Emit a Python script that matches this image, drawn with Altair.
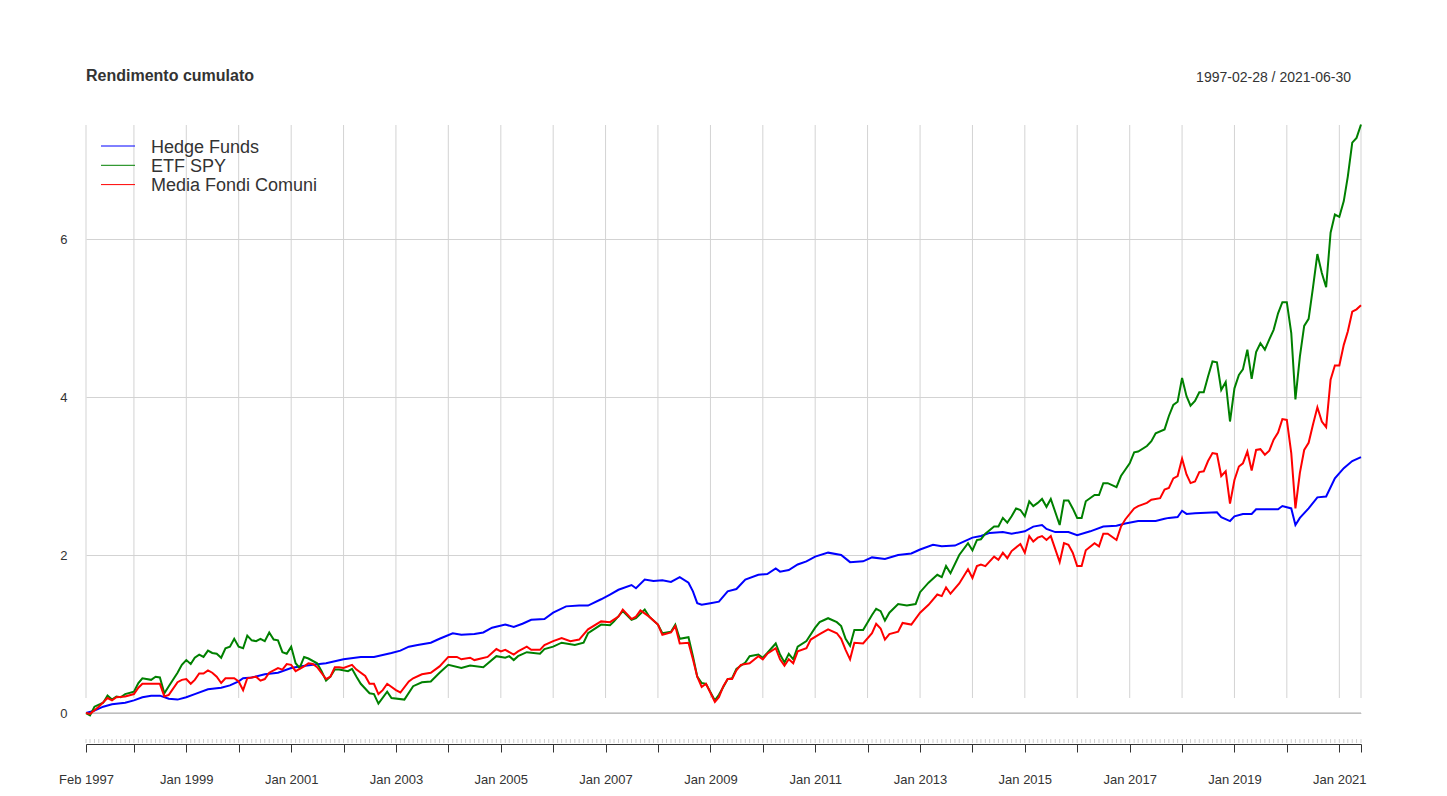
import altair as alt
import pandas as pd

# ---- data (monthly cumulative returns) ----
hedge_funds = [
    ("1997-02", 0.00), ("1997-04", 0.03), ("1997-06", 0.08), ("1997-08", 0.11), ("1997-11", 0.13),
    ("1998-01", 0.16), ("1998-03", 0.20), ("1998-05", 0.22), ("1998-07", 0.22), ("1998-09", 0.18),
    ("1998-11", 0.17), ("1999-01", 0.20), ("1999-03", 0.24), ("1999-06", 0.30), ("1999-09", 0.32),
    ("1999-11", 0.35), ("2000-01", 0.40), ("2000-02", 0.44), ("2000-04", 0.45), ("2000-07", 0.49),
    ("2000-10", 0.51), ("2001-01", 0.57), ("2001-03", 0.59), ("2001-06", 0.61), ("2001-09", 0.63),
    ("2002-01", 0.68), ("2002-05", 0.71), ("2002-08", 0.71), ("2002-12", 0.76), ("2003-02", 0.79),
    ("2003-04", 0.84), ("2003-06", 0.86), ("2003-09", 0.89), ("2003-11", 0.94), ("2004-02", 1.01),
    ("2004-04", 0.99), ("2004-07", 1.00), ("2004-09", 1.02), ("2004-11", 1.08), ("2005-02", 1.12),
    ("2005-04", 1.09), ("2005-06", 1.13), ("2005-08", 1.18), ("2005-11", 1.19), ("2006-01", 1.27),
    ("2006-04", 1.35), ("2006-07", 1.36), ("2006-09", 1.36), ("2006-12", 1.44), ("2007-02", 1.50),
    ("2007-04", 1.56), ("2007-07", 1.62), ("2007-08", 1.58), ("2007-10", 1.69), ("2007-12", 1.67),
    ("2008-02", 1.68), ("2008-04", 1.66), ("2008-06", 1.72), ("2008-08", 1.65), ("2008-09", 1.54),
    ("2008-10", 1.39), ("2008-11", 1.37), ("2009-01", 1.39), ("2009-03", 1.41), ("2009-05", 1.54),
    ("2009-07", 1.57), ("2009-09", 1.69), ("2009-12", 1.75), ("2010-02", 1.76), ("2010-04", 1.83),
    ("2010-05", 1.79), ("2010-07", 1.81), ("2010-09", 1.88), ("2010-11", 1.92), ("2011-01", 1.98),
    ("2011-04", 2.03), ("2011-07", 2.00), ("2011-09", 1.91), ("2011-12", 1.92), ("2012-02", 1.97),
    ("2012-05", 1.95), ("2012-08", 2.00), ("2012-11", 2.02), ("2013-01", 2.07), ("2013-04", 2.13),
    ("2013-06", 2.11), ("2013-09", 2.12), ("2013-11", 2.17), ("2014-01", 2.22), ("2014-03", 2.24),
    ("2014-05", 2.28), ("2014-08", 2.29), ("2014-10", 2.27), ("2015-01", 2.30), ("2015-03", 2.36),
    ("2015-05", 2.38), ("2015-06", 2.33), ("2015-08", 2.29), ("2015-11", 2.29), ("2016-01", 2.25),
    ("2016-04", 2.30), ("2016-07", 2.36), ("2016-10", 2.37), ("2016-12", 2.40), ("2017-03", 2.43),
    ("2017-07", 2.43), ("2017-09", 2.46), ("2017-10", 2.47), ("2017-12", 2.48), ("2018-01", 2.56),
    ("2018-02", 2.52), ("2018-04", 2.53), ("2018-09", 2.54), ("2018-10", 2.48), ("2018-12", 2.43),
    ("2019-01", 2.49), ("2019-03", 2.52), ("2019-05", 2.52), ("2019-06", 2.58), ("2019-11", 2.58),
    ("2019-12", 2.62), ("2020-02", 2.59), ("2020-03", 2.38), ("2020-04", 2.47), ("2020-06", 2.59),
    ("2020-08", 2.73), ("2020-10", 2.74), ("2020-12", 2.97), ("2021-02", 3.10), ("2021-04", 3.19),
    ("2021-06", 3.24),
]

etf_spy = [
    ("1997-02", 0.00), ("1997-03", -0.03), ("1997-04", 0.08), ("1997-06", 0.13), ("1997-07", 0.22),
    ("1997-08", 0.17), ("1997-09", 0.21), ("1997-10", 0.20), ("1997-11", 0.24), ("1998-01", 0.27),
    ("1998-02", 0.38), ("1998-03", 0.44), ("1998-05", 0.42), ("1998-06", 0.46), ("1998-07", 0.45),
    ("1998-08", 0.25), ("1998-09", 0.34), ("1998-11", 0.51), ("1998-12", 0.61), ("1999-01", 0.67),
    ("1999-02", 0.62), ("1999-03", 0.70), ("1999-04", 0.74), ("1999-05", 0.71), ("1999-06", 0.79),
    ("1999-07", 0.76), ("1999-08", 0.75), ("1999-09", 0.70), ("1999-10", 0.82), ("1999-11", 0.84),
    ("1999-12", 0.94), ("2000-01", 0.84), ("2000-02", 0.82), ("2000-03", 0.98), ("2000-04", 0.92),
    ("2000-05", 0.91), ("2000-06", 0.94), ("2000-07", 0.91), ("2000-08", 1.02), ("2000-09", 0.93),
    ("2000-10", 0.92), ("2000-11", 0.77), ("2000-12", 0.75), ("2001-01", 0.84), ("2001-02", 0.63),
    ("2001-03", 0.57), ("2001-04", 0.71), ("2001-05", 0.69), ("2001-07", 0.63), ("2001-08", 0.53),
    ("2001-09", 0.41), ("2001-10", 0.46), ("2001-11", 0.55), ("2001-12", 0.55), ("2002-02", 0.53),
    ("2002-03", 0.56), ("2002-04", 0.46), ("2002-05", 0.37), ("2002-07", 0.25), ("2002-08", 0.24),
    ("2002-09", 0.12), ("2002-11", 0.27), ("2002-12", 0.19), ("2003-03", 0.17), ("2003-05", 0.34),
    ("2003-07", 0.39), ("2003-09", 0.40), ("2003-11", 0.51), ("2004-01", 0.61), ("2004-04", 0.57),
    ("2004-06", 0.60), ("2004-09", 0.58), ("2004-12", 0.72), ("2005-02", 0.70), ("2005-03", 0.72),
    ("2005-04", 0.67), ("2005-05", 0.72), ("2005-07", 0.77), ("2005-10", 0.75), ("2005-11", 0.81),
    ("2006-01", 0.84), ("2006-03", 0.89), ("2006-06", 0.86), ("2006-08", 0.89), ("2006-09", 1.01),
    ("2006-12", 1.12), ("2007-02", 1.11), ("2007-03", 1.16), ("2007-05", 1.29), ("2007-07", 1.18),
    ("2007-08", 1.20), ("2007-10", 1.31), ("2007-11", 1.22), ("2008-01", 1.12), ("2008-02", 1.01),
    ("2008-04", 1.03), ("2008-05", 1.12), ("2008-06", 0.94), ("2008-08", 0.96), ("2008-09", 0.72),
    ("2008-10", 0.46), ("2008-11", 0.38), ("2008-12", 0.37), ("2009-02", 0.16), ("2009-03", 0.23),
    ("2009-05", 0.43), ("2009-06", 0.44), ("2009-07", 0.56), ("2009-09", 0.64), ("2009-10", 0.72),
    ("2009-12", 0.74), ("2010-01", 0.70), ("2010-02", 0.76), ("2010-04", 0.88), ("2010-05", 0.74),
    ("2010-06", 0.64), ("2010-07", 0.75), ("2010-08", 0.68), ("2010-09", 0.84), ("2010-11", 0.91),
    ("2011-01", 1.08), ("2011-02", 1.15), ("2011-04", 1.20), ("2011-06", 1.15), ("2011-07", 1.10),
    ("2011-08", 0.94), ("2011-09", 0.85), ("2011-10", 1.05), ("2011-12", 1.05), ("2012-02", 1.24),
    ("2012-03", 1.32), ("2012-04", 1.29), ("2012-05", 1.17), ("2012-06", 1.27), ("2012-08", 1.38),
    ("2012-10", 1.36), ("2012-12", 1.38), ("2013-01", 1.53), ("2013-03", 1.65), ("2013-05", 1.75),
    ("2013-06", 1.72), ("2013-07", 1.86), ("2013-08", 1.77), ("2013-10", 2.00), ("2013-12", 2.15),
    ("2014-01", 2.06), ("2014-02", 2.19), ("2014-03", 2.20), ("2014-04", 2.27), ("2014-06", 2.36),
    ("2014-07", 2.36), ("2014-08", 2.47), ("2014-09", 2.41), ("2014-10", 2.49), ("2014-11", 2.59),
    ("2014-12", 2.57), ("2015-01", 2.49), ("2015-02", 2.68), ("2015-03", 2.62), ("2015-04", 2.66),
    ("2015-05", 2.71), ("2015-06", 2.61), ("2015-07", 2.71), ("2015-09", 2.38), ("2015-10", 2.69),
    ("2015-11", 2.69), ("2015-12", 2.59), ("2016-01", 2.47), ("2016-02", 2.47), ("2016-03", 2.68),
    ("2016-05", 2.76), ("2016-06", 2.76), ("2016-07", 2.91), ("2016-08", 2.91), ("2016-10", 2.86),
    ("2016-11", 3.00), ("2016-12", 3.08), ("2017-01", 3.16), ("2017-02", 3.30), ("2017-03", 3.31),
    ("2017-05", 3.38), ("2017-06", 3.44), ("2017-07", 3.54), ("2017-09", 3.59), ("2017-10", 3.76),
    ("2017-11", 3.90), ("2017-12", 3.94), ("2018-01", 4.24), ("2018-02", 4.01), ("2018-03", 3.89),
    ("2018-04", 3.95), ("2018-05", 4.06), ("2018-06", 4.06), ("2018-07", 4.26), ("2018-08", 4.45),
    ("2018-09", 4.44), ("2018-10", 4.09), ("2018-11", 4.19), ("2018-12", 3.69), ("2019-01", 4.11),
    ("2019-02", 4.28), ("2019-03", 4.35), ("2019-04", 4.60), ("2019-05", 4.23), ("2019-06", 4.57),
    ("2019-07", 4.68), ("2019-08", 4.60), ("2019-09", 4.73), ("2019-10", 4.85), ("2019-11", 5.06),
    ("2019-12", 5.20), ("2020-01", 5.20), ("2020-02", 4.81), ("2020-03", 3.97), ("2020-04", 4.51),
    ("2020-05", 4.90), ("2020-06", 4.99), ("2020-07", 5.38), ("2020-08", 5.81), ("2020-09", 5.57),
    ("2020-10", 5.39), ("2020-11", 6.08), ("2020-12", 6.31), ("2021-01", 6.28), ("2021-02", 6.48),
    ("2021-03", 6.79), ("2021-04", 7.22), ("2021-05", 7.28), ("2021-06", 7.45),
]

media_fondi = [
    ("1997-02", 0.00), ("1997-03", -0.01), ("1997-05", 0.08), ("1997-07", 0.19), ("1997-08", 0.16),
    ("1997-09", 0.20), ("1997-11", 0.21), ("1998-01", 0.24), ("1998-02", 0.32), ("1998-03", 0.37),
    ("1998-05", 0.37), ("1998-07", 0.37), ("1998-08", 0.21), ("1998-09", 0.23), ("1998-11", 0.39),
    ("1998-12", 0.42), ("1999-01", 0.43), ("1999-02", 0.37), ("1999-03", 0.42), ("1999-04", 0.50),
    ("1999-05", 0.50), ("1999-06", 0.54), ("1999-07", 0.51), ("1999-08", 0.46), ("1999-09", 0.38),
    ("1999-10", 0.44), ("1999-12", 0.44), ("2000-01", 0.40), ("2000-02", 0.29), ("2000-03", 0.44),
    ("2000-05", 0.46), ("2000-06", 0.41), ("2000-07", 0.43), ("2000-08", 0.51), ("2000-10", 0.57),
    ("2000-11", 0.55), ("2000-12", 0.62), ("2001-01", 0.61), ("2001-02", 0.53), ("2001-04", 0.59),
    ("2001-05", 0.63), ("2001-06", 0.62), ("2001-07", 0.58), ("2001-09", 0.43), ("2001-10", 0.46),
    ("2001-11", 0.58), ("2001-12", 0.58), ("2002-01", 0.57), ("2002-03", 0.61), ("2002-04", 0.55),
    ("2002-06", 0.47), ("2002-07", 0.37), ("2002-08", 0.37), ("2002-09", 0.24), ("2002-10", 0.29),
    ("2002-11", 0.37), ("2003-01", 0.29), ("2003-02", 0.26), ("2003-04", 0.40), ("2003-05", 0.44),
    ("2003-07", 0.49), ("2003-09", 0.51), ("2003-11", 0.59), ("2004-01", 0.71), ("2004-03", 0.71),
    ("2004-04", 0.68), ("2004-06", 0.70), ("2004-07", 0.67), ("2004-10", 0.71), ("2004-12", 0.81),
    ("2005-01", 0.78), ("2005-02", 0.80), ("2005-04", 0.74), ("2005-05", 0.78), ("2005-07", 0.84),
    ("2005-08", 0.80), ("2005-10", 0.80), ("2005-11", 0.86), ("2006-01", 0.91), ("2006-03", 0.95),
    ("2006-05", 0.91), ("2006-07", 0.93), ("2006-09", 1.06), ("2006-12", 1.16), ("2007-02", 1.15),
    ("2007-04", 1.22), ("2007-05", 1.31), ("2007-07", 1.19), ("2007-08", 1.22), ("2007-09", 1.30),
    ("2007-11", 1.22), ("2008-01", 1.12), ("2008-02", 0.99), ("2008-04", 1.02), ("2008-05", 1.10),
    ("2008-06", 0.88), ("2008-08", 0.89), ("2008-09", 0.68), ("2008-10", 0.46), ("2008-11", 0.33),
    ("2008-12", 0.37), ("2009-02", 0.14), ("2009-03", 0.20), ("2009-04", 0.34), ("2009-05", 0.43),
    ("2009-06", 0.43), ("2009-07", 0.54), ("2009-08", 0.61), ("2009-10", 0.63), ("2009-12", 0.72),
    ("2010-01", 0.68), ("2010-02", 0.75), ("2010-04", 0.82), ("2010-05", 0.68), ("2010-06", 0.60),
    ("2010-07", 0.68), ("2010-08", 0.63), ("2010-09", 0.78), ("2010-11", 0.82), ("2010-12", 0.93),
    ("2011-02", 1.00), ("2011-04", 1.06), ("2011-06", 1.01), ("2011-07", 0.94), ("2011-08", 0.80),
    ("2011-09", 0.68), ("2011-10", 0.89), ("2011-12", 0.88), ("2012-02", 1.01), ("2012-03", 1.13),
    ("2012-04", 1.07), ("2012-05", 0.93), ("2012-06", 1.00), ("2012-08", 1.03), ("2012-09", 1.14),
    ("2012-11", 1.12), ("2013-01", 1.27), ("2013-03", 1.37), ("2013-05", 1.50), ("2013-06", 1.48),
    ("2013-07", 1.59), ("2013-08", 1.51), ("2013-10", 1.64), ("2013-12", 1.82), ("2014-01", 1.71),
    ("2014-02", 1.86), ("2014-03", 1.88), ("2014-04", 1.86), ("2014-06", 1.98), ("2014-07", 1.94),
    ("2014-08", 2.03), ("2014-09", 1.96), ("2014-10", 2.05), ("2014-12", 2.14), ("2015-01", 2.03),
    ("2015-02", 2.24), ("2015-03", 2.17), ("2015-04", 2.22), ("2015-05", 2.24), ("2015-06", 2.19),
    ("2015-07", 2.24), ("2015-09", 1.91), ("2015-10", 2.15), ("2015-11", 2.13), ("2015-12", 2.03),
    ("2016-01", 1.86), ("2016-02", 1.86), ("2016-03", 2.06), ("2016-05", 2.15), ("2016-06", 2.11),
    ("2016-07", 2.27), ("2016-08", 2.27), ("2016-10", 2.19), ("2016-11", 2.36), ("2016-12", 2.45),
    ("2017-02", 2.59), ("2017-03", 2.62), ("2017-05", 2.66), ("2017-06", 2.70), ("2017-08", 2.72),
    ("2017-09", 2.83), ("2017-10", 2.85), ("2017-11", 2.97), ("2017-12", 3.00), ("2018-01", 3.22),
    ("2018-02", 3.02), ("2018-03", 2.91), ("2018-04", 2.93), ("2018-05", 3.05), ("2018-06", 3.06),
    ("2018-07", 3.19), ("2018-08", 3.29), ("2018-09", 3.28), ("2018-10", 3.00), ("2018-11", 3.06),
    ("2018-12", 2.65), ("2019-01", 2.95), ("2019-02", 3.12), ("2019-03", 3.16), ("2019-04", 3.31),
    ("2019-05", 3.07), ("2019-06", 3.33), ("2019-07", 3.34), ("2019-08", 3.27), ("2019-09", 3.32),
    ("2019-10", 3.46), ("2019-11", 3.55), ("2019-12", 3.72), ("2020-01", 3.71), ("2020-02", 3.29),
    ("2020-03", 2.59), ("2020-04", 3.04), ("2020-05", 3.33), ("2020-06", 3.42), ("2020-07", 3.65),
    ("2020-08", 3.87), ("2020-09", 3.69), ("2020-10", 3.62), ("2020-11", 4.22), ("2020-12", 4.40),
    ("2021-01", 4.40), ("2021-02", 4.66), ("2021-03", 4.83), ("2021-04", 5.08), ("2021-05", 5.11),
    ("2021-06", 5.16),
]

series_names = ["Hedge Funds", "ETF SPY", "Media Fondi Comuni"]
series_colors = ["#0000FF", "#008000", "#FF0000"]
y_ticks = [0, 2, 4, 6]
chart_title = "Rendimento cumulato"
date_range_text = "1997-02-28 / 2021-06-30"
first_month, last_month = "1997-02", "2021-06"
grid_months = [first_month] + [f"{y}-01" for y in range(1998, 2022)] + [last_month]

# ---- build tables ----
rows = []
for name, pts in zip(series_names, [hedge_funds, etf_spy, media_fondi]):
    for d, v in pts:
        rows.append({"date": pd.Timestamp(d + "-01"), "value": v, "series": name})
df = pd.DataFrame(rows)

grid_df = pd.DataFrame({"date": [pd.Timestamp(m + "-01") for m in grid_months]})
minor_df = pd.DataFrame({"date": pd.date_range(first_month + "-01", last_month + "-01", freq="MS")})

FONT = "Liberation Sans"
W, H = 1275, 619
Y_DOMAIN = [-0.392, 7.443]

def dt(s):
    y, m = s.split("-")
    return alt.DateTime(year=int(y), month=int(m), date=1)

x_scale = alt.Scale(domain=[dt(first_month), dt(last_month)])
y_scale = alt.Scale(domain=Y_DOMAIN, nice=False, zero=False)

label_expr = ("(month(datum.value)==0 && year(datum.value)%2==1) || "
              "(year(datum.value)==1997) ? timeFormat(datum.value, '%b %Y') : ''")

x_axis = alt.Axis(values=[dt(m) for m in grid_months], labelExpr=label_expr, grid=False,
                  title=None, tickSize=8, tickColor="#333333", domainColor="#333333",
                  labelFontSize=13, labelFont=FONT, labelColor="#333333", labelPadding=21,
                  labelFlush=False, labelOverlap=False)
y_axis = alt.Axis(values=y_ticks, grid=True, gridColor="#d3d3d3", domain=False, ticks=False,
                  title=None, labelFontSize=13, labelFont=FONT, labelColor="#333333",
                  labelPadding=19)

vgrid = alt.Chart(grid_df).mark_rule(color="#d3d3d3", strokeWidth=1).encode(
    x=alt.X("date:T", scale=x_scale, axis=x_axis),
    y=alt.value(0), y2=alt.value(573),
)

minor = alt.Chart(minor_df).mark_rule(color="#d0d0d0", strokeWidth=1).encode(
    x=alt.X("date:T", scale=x_scale),
    y=alt.value(614), y2=alt.value(618),
)

zero_line = alt.Chart(pd.DataFrame({"v": [0]})).mark_rule(color="#aaaaaa", strokeWidth=1).encode(
    y=alt.Y("v:Q", scale=y_scale, axis=y_axis),
    x=alt.value(0), x2=alt.value(W),
)

lines = alt.Chart(df).mark_line(strokeWidth=2).encode(
    x=alt.X("date:T", scale=x_scale, axis=x_axis),
    y=alt.Y("value:Q", scale=y_scale, axis=y_axis),
    color=alt.Color("series:N", sort=series_names,
                    scale=alt.Scale(domain=series_names, range=series_colors),
                    legend=None),
    detail="series:N",
)

# ---- legend drawn as marks (top-left inside the plot) ----
legend_layers = []
for i, (name, col) in enumerate(zip(series_names, series_colors)):
    row_y = 21 + 19.3 * i
    legend_layers.append(
        alt.Chart(pd.DataFrame({"s": [name]})).mark_rule(color=col, strokeWidth=1).encode(
            x=alt.value(15), x2=alt.value(49), y=alt.value(row_y)))
    legend_layers.append(
        alt.Chart(pd.DataFrame({"s": [name]})).mark_text(
            align="left", baseline="alphabetic", fontSize=18, font=FONT, color="#333333"
        ).encode(text="s:N", x=alt.value(65), y=alt.value(row_y + 6.7)))

title_left = alt.Chart(pd.DataFrame({"t": [chart_title]})).mark_text(
    align="left", baseline="alphabetic", fontSize=16, fontWeight="bold", font=FONT, color="#333333"
).encode(text="t:N", x=alt.value(0), y=alt.value(-44))

title_right = alt.Chart(pd.DataFrame({"t": [date_range_text]})).mark_text(
    align="right", baseline="alphabetic", fontSize=14, font=FONT, color="#333333"
).encode(text="t:N", x=alt.value(1265), y=alt.value(-43))

chart = alt.layer(vgrid, minor, zero_line, lines, *legend_layers, title_left, title_right).properties(
    width=W, height=H,
    autosize=alt.AutoSizeParams(type="none"),
    padding={"left": 86, "top": 125, "right": 86, "bottom": 52},
    background="white",
).configure_view(stroke=None)

chart.save("out.html", embed_options={"renderer": "svg", "actions": False})
